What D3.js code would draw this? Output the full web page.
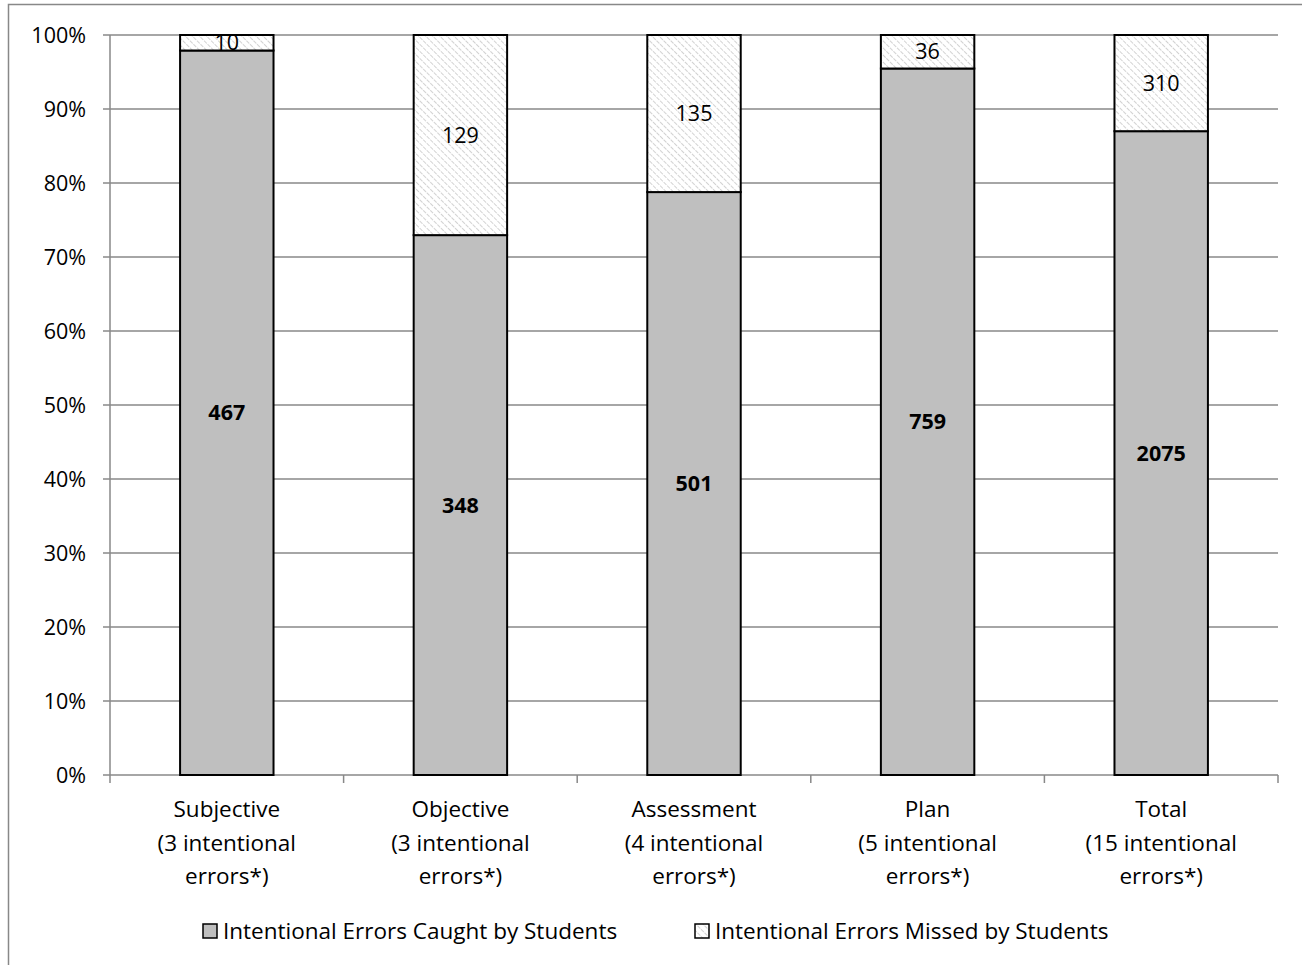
<!DOCTYPE html>
<html>
<head>
<meta charset="utf-8">
<script src="https://cdn.jsdelivr.net/npm/d3@7"></script>
<style>
  body { margin: 0; background: #fff; }
  text { font-family: "Open Sans", sans-serif; fill: #000; }
</style>
</head>
<body>
<svg id="chart" width="1302" height="965"></svg>
<script>
const categories = ["Subjective", "Objective", "Assessment", "Plan", "Total"];
const categoryNotes = ["(3 intentional", "(3 intentional", "(4 intentional", "(5 intentional", "(15 intentional"];
const caught = [467, 348, 501, 759, 2075];
const missed = [10, 129, 135, 36, 310];
const yTicks = [0, 0.1, 0.2, 0.3, 0.4, 0.5, 0.6, 0.7, 0.8, 0.9, 1];
const legendLabels = ["Intentional Errors Caught by Students", "Intentional Errors Missed by Students"];

const svg = d3.select("#chart");
const W = 1302, H = 965;
const m = {left: 110, right: 24, top: 35, bottom: 190};
const numSize = 21.5, wordSize = 22.5;

// outer chart frame (runs off the right/bottom edge)
svg.append("rect")
  .attr("x", 8.5).attr("y", 4.5)
  .attr("width", W + 10).attr("height", H + 10)
  .attr("fill", "none").attr("stroke", "#888").attr("stroke-width", 1.5);

const defs = svg.append("defs");
const pat = defs.append("pattern")
  .attr("id", "hatch")
  .attr("patternUnits", "userSpaceOnUse")
  .attr("width", 5).attr("height", 5)
  .attr("patternTransform", "rotate(-45)");
pat.append("rect").attr("width", 5).attr("height", 5).attr("fill", "#fff");
pat.append("line")
  .attr("x1", 0).attr("y1", 0).attr("x2", 0).attr("y2", 5)
  .attr("stroke", "#d2d2d2").attr("stroke-width", 2)
  .attr("stroke-dasharray", "2,1");

const x = d3.scaleBand()
  .domain(categories)
  .range([m.left, W - m.right])
  .paddingInner(0.6)
  .paddingOuter(0.3);

const y = d3.scaleLinear()
  .domain([0, 1])
  .range([H - m.bottom, m.top]);

// gridlines
svg.append("g")
  .selectAll("line")
  .data(yTicks)
  .join("line")
  .attr("x1", m.left - 7)
  .attr("x2", W - m.right)
  .attr("y1", d => y(d))
  .attr("y2", d => y(d))
  .attr("stroke", "#888")
  .attr("stroke-width", 1.5);

// y labels
svg.append("g")
  .selectAll("text")
  .data(yTicks)
  .join("text")
  .attr("x", m.left - 24)
  .attr("y", d => y(d))
  .attr("dy", "0.35em")
  .attr("text-anchor", "end")
  .attr("font-size", numSize)
  .text(d3.format(".0%"));

// y axis line
svg.append("line")
  .attr("x1", m.left).attr("x2", m.left)
  .attr("y1", m.top).attr("y2", y(0) + 8)
  .attr("stroke", "#888").attr("stroke-width", 1.5);

// category boundary ticks
svg.append("g")
  .selectAll("line")
  .data(d3.range(1, categories.length + 1))
  .join("line")
  .attr("x1", i => m.left + (W - m.right - m.left) * i / categories.length)
  .attr("x2", i => m.left + (W - m.right - m.left) * i / categories.length)
  .attr("y1", y(0))
  .attr("y2", y(0) + 8)
  .attr("stroke", "#888").attr("stroke-width", 1.5);

const rows = categories.map((c, i) => {
  const tot = caught[i] + missed[i];
  return {cat: c, caught: caught[i], missed: missed[i], p: caught[i] / tot};
});

const bars = svg.append("g")
  .selectAll("g")
  .data(rows)
  .join("g");

bars.append("rect")
  .attr("x", d => x(d.cat))
  .attr("width", x.bandwidth())
  .attr("y", d => y(d.p))
  .attr("height", d => y(0) - y(d.p))
  .attr("fill", "#bfbfbf")
  .attr("stroke", "#000").attr("stroke-width", 2);

bars.append("rect")
  .attr("x", d => x(d.cat))
  .attr("width", x.bandwidth())
  .attr("y", y(1))
  .attr("height", d => y(d.p) - y(1))
  .attr("fill", "url(#hatch)")
  .attr("stroke", "#000").attr("stroke-width", 2);

bars.append("text")
  .attr("x", d => x(d.cat) + x.bandwidth() / 2)
  .attr("y", d => y(d.p / 2))
  .attr("dy", "0.35em")
  .attr("text-anchor", "middle")
  .attr("font-size", numSize)
  .attr("font-weight", "bold")
  .text(d => d.caught);

bars.append("text")
  .attr("x", d => x(d.cat) + x.bandwidth() / 2)
  .attr("y", d => y((1 + d.p) / 2))
  .attr("dy", "0.35em")
  .attr("text-anchor", "middle")
  .attr("font-size", numSize)
  .text(d => d.missed);

// category labels
const xl = svg.append("g")
  .selectAll("text")
  .data(categories)
  .join("text")
  .attr("text-anchor", "middle")
  .attr("font-size", wordSize)
  .attr("transform", d => `translate(${x(d) + x.bandwidth() / 2},${y(0) + 42})`);
xl.append("tspan").attr("x", 0).attr("dy", 0).text(d => d);
xl.append("tspan").attr("x", 0).attr("dy", 33.5).text((d, i) => categoryNotes[i]);
xl.append("tspan").attr("x", 0).attr("dy", 33.5).text("errors*)");

// legend
const legX = [203, 695];
const leg = svg.append("g")
  .selectAll("g")
  .data(legendLabels)
  .join("g")
  .attr("transform", (d, i) => `translate(${legX[i]},931)`);
leg.append("rect")
  .attr("x", 0).attr("y", -7)
  .attr("width", 14).attr("height", 14)
  .attr("fill", (d, i) => i === 0 ? "#bfbfbf" : "url(#hatch)")
  .attr("stroke", "#000").attr("stroke-width", 1.5);
leg.append("text")
  .attr("x", 20)
  .attr("dy", "0.35em")
  .attr("font-size", wordSize)
  .text(d => d);
</script>
</body>
</html>
